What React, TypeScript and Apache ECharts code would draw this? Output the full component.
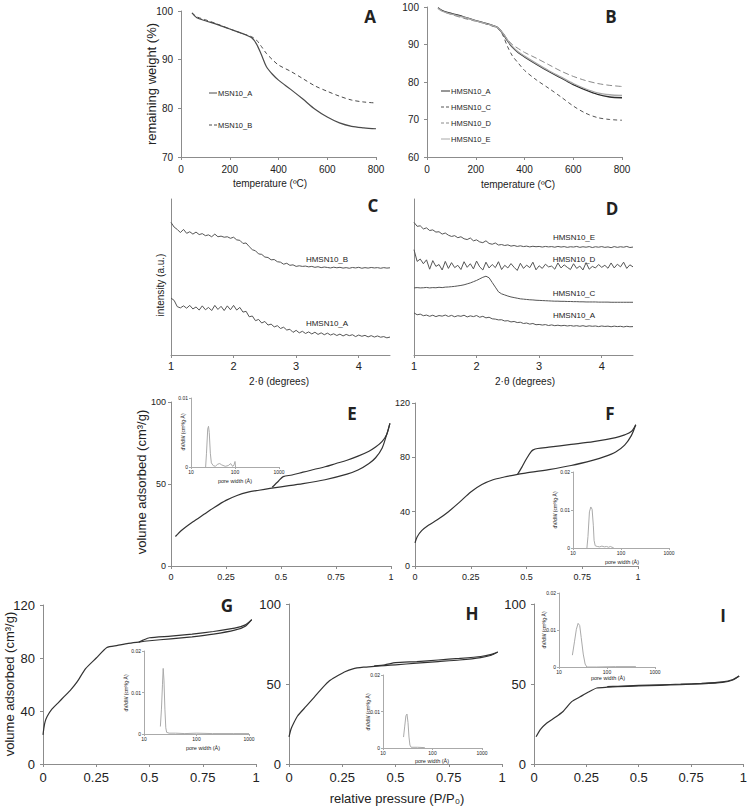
import React, { useEffect, useRef } from "react";
import * as echarts from "echarts";

// ---------- Panel A / B : TGA ----------
const tgaTemp = [45, 65, 100, 150, 200, 250, 290, 310, 330, 350, 375, 400, 450, 500, 550, 600, 650, 700, 750, 800];
const msn10A = [99.6, 98.6, 98.0, 97.2, 96.3, 95.4, 94.5, 93.2, 91.0, 88.6, 87.0, 85.8, 83.9, 81.9, 79.8, 78.2, 77.0, 76.3, 76.0, 75.8];
const msn10B = [99.6, 98.8, 98.2, 97.3, 96.3, 95.4, 94.7, 94.0, 92.7, 91.3, 90.0, 88.9, 87.6, 86.1, 84.6, 83.5, 82.5, 81.7, 81.3, 81.1];
const hmsnA_tga = [99.8, 99.0, 98.3, 97.4, 96.4, 95.5, 94.5, 93.0, 91.0, 89.3, 87.8, 86.7, 84.7, 82.8, 81.1, 79.3, 77.9, 76.7, 76.0, 75.8];
const hmsnC_tga = [99.8, 98.9, 98.2, 97.2, 96.3, 95.3, 94.3, 92.6, 89.5, 87.0, 85.0, 83.1, 80.5, 78.3, 76.0, 73.6, 71.7, 70.5, 70.0, 69.8];
const hmsnD_tga = [99.8, 98.8, 98.0, 97.0, 96.2, 95.4, 94.6, 93.3, 91.4, 90.0, 88.9, 87.9, 86.3, 84.6, 82.9, 81.5, 80.4, 79.6, 79.1, 78.8];
const hmsnE_tga = [99.6, 98.8, 98.1, 97.3, 96.3, 95.4, 94.5, 93.1, 91.2, 89.5, 88.0, 86.9, 84.9, 83.0, 81.3, 79.6, 78.2, 77.1, 76.6, 76.4];

// ---------- Panel C / D : XRD ----------
const twoTheta = [1, 1.05, 1.1, 1.15, 1.2, 1.25, 1.3, 1.35, 1.4, 1.45, 1.5, 1.55, 1.6, 1.65, 1.7, 1.75, 1.8, 1.85, 1.9, 1.95,
  2, 2.05, 2.1, 2.15, 2.2, 2.25, 2.3, 2.35, 2.4, 2.45, 2.5, 2.55, 2.6, 2.65, 2.7, 2.75, 2.8, 2.85, 2.9, 2.95,
  3, 3.05, 3.1, 3.15, 3.2, 3.25, 3.3, 3.35, 3.4, 3.45, 3.5, 3.55, 3.6, 3.65, 3.7, 3.75, 3.8, 3.85, 3.9, 3.95,
  4, 4.05, 4.1, 4.15, 4.2, 4.25, 4.3, 4.35, 4.4, 4.45, 4.5];
const xrdC_B = [85.0, 82.0, 80.5, 78.5, 80.5, 78.0, 79.0, 77.5, 78.8, 77.2, 77.8, 76.5, 77.0, 75.8, 77.5, 75.8, 76.2, 75.5, 75.8, 74.8,
  75.5, 73.8, 73.5, 71.5, 71.8, 69.5, 67.5, 66.8, 64.8, 64.5, 62.8, 62.5, 61.0, 61.2, 59.8, 59.5, 58.2, 58.8, 57.5, 57.8,
  56.8, 57.2, 56.8, 57.0, 56.5, 56.8, 56.2, 56.6, 56.0, 56.4, 56.1, 55.8, 56.3, 55.9, 56.2, 55.7, 56.0, 55.6, 56.1, 55.8,
  56.2, 55.6, 56.0, 55.7, 56.1, 55.8, 56.0, 55.6, 56.0, 55.7, 55.9];
const xrdC_A = [36.5, 35.0, 31.0, 30.2, 31.5, 30.0, 31.8, 29.5, 30.8, 28.8, 31.5, 29.0, 30.5, 28.5, 31.8, 29.2, 31.2, 28.5, 31.5, 29.0,
  31.8, 28.8, 30.5, 27.5, 28.0, 24.5, 25.0, 22.0, 22.8, 20.5, 21.5, 19.2, 19.8, 18.0, 18.8, 17.0, 17.8, 16.0, 16.5, 14.5,
  15.8, 14.2, 15.2, 13.8, 14.8, 13.5, 14.6, 13.2, 14.2, 13.0, 14.0, 12.8, 13.6, 12.5, 13.4, 12.2, 13.2, 12.4, 13.0, 11.8,
  12.8, 12.0, 12.6, 11.6, 12.4, 11.5, 12.2, 11.4, 11.8, 11.0, 11.5];
const xrdD_E = [85.0, 82.5, 82.8, 80.8, 81.5, 79.8, 80.2, 78.8, 79.0, 77.5, 78.2, 76.8, 76.0, 76.5, 75.2, 75.8, 74.5, 74.0, 75.0, 73.2,
  73.8, 72.5, 72.0, 73.2, 71.5, 71.0, 71.8, 70.5, 70.8, 70.2, 70.6, 69.8, 70.2, 69.6, 70.0, 69.5, 69.8, 69.3, 69.7, 69.4,
  69.6, 69.2, 69.6, 69.3, 69.5, 69.1, 69.6, 69.2, 69.5, 69.0, 69.4, 69.2, 69.6, 69.0, 69.4, 69.1, 69.5, 68.9, 69.4, 69.1,
  69.5, 69.0, 69.3, 68.8, 69.5, 69.0, 69.4, 69.1, 69.6, 68.9, 69.2];
const xrdD_D = [67.5, 60.0, 61.5, 58.5, 61.0, 55.0, 60.5, 56.8, 58.0, 54.5, 60.0, 55.5, 59.2, 56.0, 57.5, 54.8, 59.8, 56.2, 58.5, 55.2,
  60.2, 56.5, 54.5, 59.5, 55.8, 58.0, 56.0, 59.8, 54.8, 57.5, 55.8, 58.6, 56.2, 54.2, 58.8, 55.5, 57.6, 56.0, 59.5, 54.6,
  57.2, 55.5, 58.2, 56.5, 57.0, 55.0, 59.0, 55.8, 57.8, 56.2, 54.8, 58.5, 55.5, 57.0, 54.5, 59.2, 55.0, 56.8, 55.8, 58.0,
  56.2, 57.5, 55.6, 59.0, 55.8, 58.2, 56.5, 59.5, 55.5, 57.8, 56.5];
const xrdD_C = [43.0, 43.2, 43.0, 43.1, 43.3, 43.0, 43.2, 43.1, 43.4, 43.2, 43.5, 43.6, 43.8, 44.0, 44.3, 44.6, 45.0, 45.6, 46.2, 47.0,
  47.8, 48.8, 49.8, 50.5, 49.5, 46.5, 43.5, 40.5, 39.2, 38.5, 37.8, 37.2, 36.8, 36.4, 36.0, 35.8, 35.6, 35.4, 35.3, 35.1,
  35.0, 34.9, 34.8, 34.7, 34.6, 34.5, 34.5, 34.4, 34.4, 34.3, 34.3, 34.2, 34.2, 34.1, 34.1, 34.0, 34.0, 34.0, 34.0, 33.9,
  33.9, 33.9, 33.9, 33.8, 33.8, 33.8, 33.8, 33.8, 33.8, 33.8, 33.8];
const xrdD_A = [27.0, 25.8, 26.2, 25.2, 25.6, 24.8, 25.5, 24.6, 25.3, 24.9, 25.6, 24.7, 25.4, 24.5, 25.2, 24.8, 25.5, 24.4, 25.1, 24.6,
  25.3, 24.2, 24.8, 23.8, 24.2, 23.2, 23.0, 22.5, 22.6, 21.8, 22.0, 21.2, 21.5, 20.8, 21.0, 20.2, 20.5, 19.8, 20.2, 19.4,
  19.6, 19.2, 19.5, 18.9, 19.3, 18.8, 19.1, 18.7, 19.0, 18.6, 18.9, 18.5, 18.8, 18.4, 18.8, 18.3, 18.7, 18.4, 18.6, 18.2,
  18.6, 18.3, 18.5, 18.1, 18.5, 18.2, 18.4, 18.0, 18.4, 18.1, 18.2];

// ---------- Panels E-I : N2 isotherms ----------
const eAdsP = [0.02, 0.05, 0.1, 0.15, 0.2, 0.25, 0.3, 0.35, 0.4, 0.45, 0.5, 0.6, 0.7, 0.8, 0.85, 0.9, 0.93, 0.96, 0.98, 0.995];
const eAdsV = [18, 22, 27, 31.5, 36, 40, 43, 45, 46.2, 47.3, 48.3, 50.2, 52.6, 56, 58.5, 62.5, 66, 72, 80, 87];
const eDesP = [0.995, 0.98, 0.96, 0.93, 0.9, 0.85, 0.8, 0.75, 0.7, 0.6, 0.55, 0.51, 0.49, 0.46];
const eDesV = [87, 80, 76, 72.5, 70, 67, 64.5, 62.5, 60.5, 57.2, 55.5, 54.5, 52, 48];

const fAdsP = [0, 0.01, 0.03, 0.06, 0.1, 0.15, 0.2, 0.25, 0.3, 0.35, 0.4, 0.46, 0.5, 0.6, 0.7, 0.8, 0.85, 0.9, 0.94, 0.97, 0.99];
const fAdsV = [17, 21.5, 26, 30, 34, 40, 47, 54.5, 60, 63.5, 65.5, 67.5, 68.5, 71, 74, 78, 80.5, 84, 89, 96, 104];
const fDesP = [0.99, 0.97, 0.94, 0.9, 0.8, 0.7, 0.6, 0.55, 0.53, 0.52, 0.5, 0.48, 0.46];
const fDesV = [104, 99, 96.5, 94.5, 91.5, 89.5, 87.5, 86.5, 85.5, 84, 79, 73, 67.5];

const gAdsP = [0, 0.005, 0.01, 0.02, 0.04, 0.07, 0.1, 0.13, 0.16, 0.2, 0.25, 0.3, 0.35, 0.4, 0.45, 0.5, 0.6, 0.7, 0.8, 0.9, 0.95, 0.98];
const gAdsV = [22, 28, 32, 36, 41, 46, 51, 56, 62, 72, 80, 88, 89.5, 91, 92, 93, 94.5, 96, 98, 101, 104, 109];
const gDesP = [0.98, 0.95, 0.9, 0.8, 0.7, 0.6, 0.5, 0.47, 0.45];
const gDesV = [109, 105, 102.5, 100, 98, 96.5, 95.3, 93.5, 92];

const hAdsP = [0, 0.01, 0.02, 0.04, 0.08, 0.12, 0.16, 0.19, 0.22, 0.26, 0.3, 0.35, 0.4, 0.45, 0.5, 0.6, 0.7, 0.8, 0.9, 0.95, 0.98];
const hAdsV = [17, 22, 25, 30, 36, 42, 48, 52, 54.5, 57.5, 59.5, 60.5, 61, 61.5, 62, 63, 64, 65, 66.5, 68, 70];
const hDesP = [0.98, 0.95, 0.9, 0.8, 0.7, 0.6, 0.5, 0.45, 0.4];
const hDesV = [70, 68.5, 67.2, 66, 65, 64, 63.3, 62, 61.3];

const iAdsP = [0.01, 0.03, 0.06, 0.1, 0.14, 0.18, 0.22, 0.26, 0.3, 0.35, 0.4, 0.5, 0.6, 0.7, 0.8, 0.9, 0.95, 0.98];
const iAdsV = [17, 21.5, 25.5, 29, 33, 39, 42, 45, 47.5, 48, 48.3, 48.8, 49.2, 49.6, 50.1, 51, 52.5, 55];
const iDesP = [0.98, 0.95, 0.9, 0.8, 0.7, 0.6, 0.5, 0.4, 0.35];
const iDesV = [55, 52.8, 51.3, 50.4, 49.9, 49.5, 49.1, 48.6, 48.3];

// ---------- Insets : pore size distributions ----------
const ePoreW = [21.5, 22.5, 24, 25, 26, 27.5, 29, 32, 36, 40, 45, 50, 60, 70, 80, 85, 90, 95, 100, 103];
const ePsd = [0, 0.002, 0.0055, 0.0059, 0.005, 0.002, 0.0006, 0.0002, 0.0001, 0.0004, 0.0005, 0.0003, 0.0001, 0.0002, 0.0005, 0.0002, 0.0001, 0.0003, 0.0008, 0];
const fPoreW = [19.5, 20.5, 22, 23.5, 25, 26.5, 27.5, 29, 32, 36, 40, 45, 50, 55, 60, 65, 70];
const fPsd = [0, 0.003, 0.0095, 0.0108, 0.0102, 0.006, 0.002, 0.0006, 0.0004, 0.0003, 0.0005, 0.0003, 0.0004, 0.0002, 0.0004, 0.0002, 0.0001];
const gPoreW = [20.5, 21.5, 22.5, 23.2, 24, 25, 26, 27, 30, 40, 60, 100, 200, 500, 1000];
const gPsd = [0.0018, 0.006, 0.012, 0.0158, 0.013, 0.006, 0.0015, 0.0004, 0.0002, 0.0002, 0.0001, 0.0002, 0.0001, 0.0001, 0.0001];
const hPoreW = [26, 27.5, 29, 30.5, 32, 33.5, 35, 37, 50, 70];
const hPsd = [0.003, 0.006, 0.0088, 0.0093, 0.007, 0.003, 0.0008, 0.0002, 0.0002, 0.0001];
const iPoreW = [19, 21, 23, 25, 27, 29, 32, 35, 38, 60, 150, 400];
const iPsd = [0.0032, 0.0068, 0.0102, 0.0118, 0.0112, 0.008, 0.0035, 0.0008, 0, 0, 0.0001, 0.0001];

const FONT = "'Liberation Sans', Arial, sans-serif";
const LETTER_FONT = "'Open Sans', 'Liberation Sans', sans-serif";
const AXIS = "#8c8c8c";
const TXT = "#222";

const zip = (xs: number[], ys: number[]) => xs.map((x, i) => [x, ys[i]]);

// grid layouts (pixels)
const grids = [
  { left: 181, top: 11, width: 195, height: 146 }, // A
  { left: 427, top: 7, width: 195, height: 150 }, // B
  { left: 171, top: 199, width: 219, height: 156 }, // C
  { left: 414, top: 199, width: 219, height: 156 }, // D
  { left: 171, top: 402, width: 220, height: 164 }, // E
  { left: 415, top: 403, width: 223, height: 163 }, // F
  { left: 43, top: 605, width: 213, height: 159 }, // G
  { left: 289, top: 604, width: 213, height: 160 }, // H
  { left: 534, top: 604, width: 212, height: 160 }, // I
  { left: 191, top: 398, width: 88, height: 69 }, // E inset
  { left: 573, top: 472, width: 96, height: 76 }, // F inset
  { left: 144, top: 651, width: 105, height: 83 }, // G inset
  { left: 383, top: 675, width: 99, height: 73 }, // H inset
  { left: 559, top: 593, width: 96, height: 74 }, // I inset
];

type AxOpt = {
  min: number; max: number; interval?: number; log?: boolean; labels?: boolean; ticks?: boolean;
  fontSize?: number; margin?: number; showMax?: boolean; tickLen?: number; color?: string;
};
function mkAxis(gridIndex: number, o: AxOpt) {
  const a: any = {
    gridIndex,
    type: o.log ? "log" : "value",
    min: o.min,
    max: o.max,
    splitLine: { show: false },
    axisLine: { show: true, onZero: false, lineStyle: { color: o.color ?? AXIS, width: 1 } },
    axisTick: { show: o.ticks !== false, length: o.tickLen ?? 3, lineStyle: { color: o.color ?? AXIS } },
    axisLabel: {
      show: o.labels !== false,
      fontSize: o.fontSize ?? 10,
      margin: o.margin ?? 6,
      color: TXT,
      fontFamily: FONT,
      showMaxLabel: o.showMax ?? true,
      showMinLabel: true,
    },
  };
  if (o.log) {
    a.logBase = 10;
    a.axisLabel.formatter = (v: number) => String(Math.round(v));
  } else if (o.interval != null) a.interval = o.interval;
  return a;
}

const xAxes = [
  mkAxis(0, { min: 0, max: 800, interval: 200, fontSize: 10, margin: 7 }),
  mkAxis(1, { min: 0, max: 800, interval: 200, fontSize: 10, margin: 7 }),
  mkAxis(2, { min: 1, max: 4.5, interval: 1, fontSize: 11, margin: 5, showMax: false }),
  mkAxis(3, { min: 1, max: 4.5, interval: 1, fontSize: 11, margin: 5, showMax: false }),
  mkAxis(4, { min: 0, max: 1, interval: 0.25, fontSize: 9, margin: 6 }),
  mkAxis(5, { min: 0, max: 1, interval: 0.25, fontSize: 9, margin: 6 }),
  mkAxis(6, { min: 0, max: 1, interval: 0.25, fontSize: 13, margin: 7 }),
  mkAxis(7, { min: 0, max: 1, interval: 0.25, fontSize: 13, margin: 7 }),
  mkAxis(8, { min: 0, max: 1, interval: 0.25, fontSize: 13, margin: 7 }),
  mkAxis(9, { min: 10, max: 1000, log: true, fontSize: 5, margin: 2, tickLen: 2, color: "#aaa" }),
  mkAxis(10, { min: 10, max: 1000, log: true, fontSize: 5, margin: 2, tickLen: 2, color: "#aaa" }),
  mkAxis(11, { min: 10, max: 1000, log: true, fontSize: 5, margin: 2, tickLen: 2, color: "#aaa" }),
  mkAxis(12, { min: 10, max: 1000, log: true, fontSize: 5, margin: 2, tickLen: 2, color: "#aaa" }),
  mkAxis(13, { min: 10, max: 1000, log: true, fontSize: 5, margin: 2, tickLen: 2, color: "#aaa" }),
];
const yAxes = [
  mkAxis(0, { min: 70, max: 100, interval: 10, fontSize: 10, margin: 8 }),
  mkAxis(1, { min: 60, max: 100, interval: 10, fontSize: 10, margin: 8 }),
  mkAxis(2, { min: 0, max: 100, labels: false, ticks: false }),
  mkAxis(3, { min: 0, max: 100, labels: false, ticks: false }),
  mkAxis(4, { min: 0, max: 100, interval: 50, fontSize: 9, margin: 5 }),
  mkAxis(5, { min: 0, max: 120, interval: 40, fontSize: 9, margin: 5 }),
  mkAxis(6, { min: 0, max: 120, interval: 40, fontSize: 13, margin: 8 }),
  mkAxis(7, { min: 0, max: 100, interval: 50, fontSize: 13, margin: 8 }),
  mkAxis(8, { min: 0, max: 100, interval: 50, fontSize: 13, margin: 8 }),
  mkAxis(9, { min: 0, max: 0.01, interval: 0.01, fontSize: 5, margin: 3, tickLen: 2, color: "#aaa" }),
  mkAxis(10, { min: 0, max: 0.02, interval: 0.01, fontSize: 5, margin: 3, tickLen: 2, color: "#aaa" }),
  mkAxis(11, { min: 0, max: 0.02, interval: 0.01, fontSize: 5, margin: 3, tickLen: 2, color: "#aaa" }),
  mkAxis(12, { min: 0, max: 0.02, interval: 0.01, fontSize: 5, margin: 3, tickLen: 2, color: "#aaa" }),
  mkAxis(13, { min: 0, max: 0.02, interval: 0.01, fontSize: 5, margin: 3, tickLen: 2, color: "#aaa" }),
];

function line(idx: number, name: string, data: number[][], color: string, width = 1.2, dash?: number[], smooth: number | boolean = false) {
  return {
    type: "line",
    name,
    xAxisIndex: idx,
    yAxisIndex: idx,
    data,
    symbol: "none",
    showSymbol: false,
    smooth,
    silent: true,
    lineStyle: { color, width, type: dash ? dash : "solid" },
  };
}

const series = [
  line(0, "MSN10_A", zip(tgaTemp, msn10A), "#4a4a4a", 1.2, undefined, 0.3),
  line(0, "MSN10_B", zip(tgaTemp, msn10B), "#4a4a4a", 1, [4, 3], 0.3),
  line(1, "HMSN10_A", zip(tgaTemp, hmsnA_tga), "#2e2e2e", 1.3, undefined, 0.3),
  line(1, "HMSN10_C", zip(tgaTemp, hmsnC_tga), "#555", 1, [4, 3], 0.3),
  line(1, "HMSN10_D", zip(tgaTemp, hmsnD_tga), "#8a8a8a", 1, [6, 3], 0.3),
  line(1, "HMSN10_E", zip(tgaTemp, hmsnE_tga), "#a8a8a8", 1.3, undefined, 0.3),
  line(2, "HMSN10_B", zip(twoTheta, xrdC_B), "#555", 1),
  line(2, "HMSN10_A", zip(twoTheta, xrdC_A), "#555", 1),
  line(3, "HMSN10_E", zip(twoTheta, xrdD_E), "#555", 1),
  line(3, "HMSN10_D", zip(twoTheta, xrdD_D), "#555", 1),
  line(3, "HMSN10_C", zip(twoTheta, xrdD_C), "#555", 1),
  line(3, "HMSN10_A", zip(twoTheta, xrdD_A), "#555", 1),
  line(4, "E ads", zip(eAdsP, eAdsV), "#333", 1.2, undefined, 0.3),
  line(4, "E des", zip(eDesP, eDesV), "#333", 1.2, undefined, 0.3),
  line(5, "F ads", zip(fAdsP, fAdsV), "#333", 1.2, undefined, 0.3),
  line(5, "F des", zip(fDesP, fDesV), "#333", 1.2, undefined, 0.3),
  line(6, "G ads", zip(gAdsP, gAdsV), "#333", 1.2, undefined, 0.2),
  line(6, "G des", zip(gDesP, gDesV), "#333", 1.2, undefined, 0.2),
  line(7, "H ads", zip(hAdsP, hAdsV), "#333", 1.2, undefined, 0.2),
  line(7, "H des", zip(hDesP, hDesV), "#333", 1.2, undefined, 0.2),
  line(8, "I ads", zip(iAdsP, iAdsV), "#333", 1.2, undefined, 0.2),
  line(8, "I des", zip(iDesP, iDesV), "#333", 1.2, undefined, 0.2),
  line(9, "E psd", zip(ePoreW, ePsd), "#aaa", 1),
  line(10, "F psd", zip(fPoreW, fPsd), "#aaa", 1),
  line(11, "G psd", zip(gPoreW, gPsd), "#aaa", 1),
  line(12, "H psd", zip(hPoreW, hPsd), "#aaa", 1),
  line(13, "I psd", zip(iPoreW, iPsd), "#aaa", 1),
];

function txt(text: string, x: number, y: number, fontSize: number, opts: any = {}) {
  return {
    type: "text",
    x,
    y,
    rotation: opts.rotation ?? 0,
    silent: true,
    style: {
      text,
      fill: opts.fill ?? TXT,
      fontSize,
      fontWeight: opts.bold ? "bold" : "normal",
      fontFamily: opts.family ?? FONT,
      align: opts.align ?? "center",
      verticalAlign: "middle",
    },
  };
}
function seg(x1: number, y1: number, x2: number, y2: number, color: string, dash?: number[], width = 1) {
  return {
    type: "line",
    silent: true,
    shape: { x1, y1, x2, y2 },
    style: { stroke: color, lineWidth: width, lineDash: dash ?? null },
  };
}

const V = Math.PI / 2;
const graphics = [
  // panel letters
  txt("A", 370, 16, 17, { bold: true, family: LETTER_FONT }),
  txt("B", 611, 16, 17, { bold: true, family: LETTER_FONT }),
  txt("C", 373, 205, 17, { bold: true, family: LETTER_FONT }),
  txt("D", 612, 208, 17, { bold: true, family: LETTER_FONT }),
  txt("E", 352, 413, 17, { bold: true, family: LETTER_FONT }),
  txt("F", 610, 413, 17, { bold: true, family: LETTER_FONT }),
  txt("G", 227, 605, 17, { bold: true, family: LETTER_FONT }),
  txt("H", 472, 613, 17, { bold: true, family: LETTER_FONT }),
  txt("I", 723, 615, 17, { bold: true, family: LETTER_FONT }),
  // axis titles
  txt("remaining weight (%)", 151, 84, 13, { rotation: V }),
  txt("temperature (ºC)", 270, 183, 10),
  txt("temperature (ºC)", 518, 184, 10),
  txt("intensity (a.u.)", 160, 285, 10, { rotation: V }),
  txt("2·θ (degrees)", 279, 381, 10),
  txt("2·θ (degrees)", 525, 381, 10),
  txt("volume adsorbed (cm³/g)", 141, 482, 13, { rotation: V }),
  txt("volume adsorbed (cm³/g)", 9, 684, 13, { rotation: V }),
  txt("relative pressure (P/P₀)", 397, 798, 13),
  // XRD labels
  txt("HMSN10_B", 327, 259, 8),
  txt("HMSN10_A", 327, 323, 8),
  txt("HMSN10_E", 574, 237, 8),
  txt("HMSN10_D", 574, 259, 8),
  txt("HMSN10_C", 574, 293, 8),
  txt("HMSN10_A", 574, 315, 8),
  // legend A
  seg(209, 93, 217, 93, "#4a4a4a"),
  txt("MSN10_A", 218, 93, 7.5, { align: "left" }),
  seg(209, 125, 217, 125, "#4a4a4a", [3, 2]),
  txt("MSN10_B", 218, 125, 7.5, { align: "left" }),
  // legend B
  seg(441, 91, 450, 91, "#2e2e2e"),
  txt("HMSN10_A", 451, 91, 7.5, { align: "left" }),
  seg(441, 107, 450, 107, "#555", [3, 2]),
  txt("HMSN10_C", 451, 107, 7.5, { align: "left" }),
  seg(441, 123, 450, 123, "#8a8a8a", [3, 2]),
  txt("HMSN10_D", 451, 123, 7.5, { align: "left" }),
  seg(441, 139, 450, 139, "#a8a8a8"),
  txt("HMSN10_E", 451, 139, 7.5, { align: "left" }),
  // inset titles
  txt("dV/dW (cm³/g·Å)", 183, 432, 5, { rotation: V }),
  txt("pore width (Å)", 235, 481, 5.5),
  txt("dV/dW (cm³/g·Å)", 555, 510, 5, { rotation: V }),
  txt("pore width (Å)", 622, 562, 5.5),
  txt("dV/dW (cm³/g·Å)", 126, 693, 5, { rotation: V }),
  txt("pore width (Å)", 203, 748, 5.5),
  txt("dV/dW (cm³/g·Å)", 368, 712, 5, { rotation: V }),
  txt("pore width (Å)", 432, 761, 5.5),
  txt("dV/dW (cm³/g·Å)", 544, 630, 5, { rotation: V }),
  txt("pore width (Å)", 608, 678, 5.5),
];

export default function App() {
  const ref = useRef<HTMLDivElement>(null);
  useEffect(() => {
    document.body.style.margin = "0";
    if (!ref.current) return;
    const chart = echarts.init(ref.current, undefined, { renderer: "svg" });
    chart.setOption({
      animation: false,
      backgroundColor: "#ffffff",
      textStyle: { fontFamily: FONT },
      grid: grids.map((g) => ({ ...g, containLabel: false })),
      xAxis: xAxes,
      yAxis: yAxes,
      series,
      graphic: graphics,
    });
    return () => chart.dispose();
  }, []);
  return <div ref={ref} style={{ position: "absolute", left: 0, top: 0, width: 750, height: 806 }} />;
}
